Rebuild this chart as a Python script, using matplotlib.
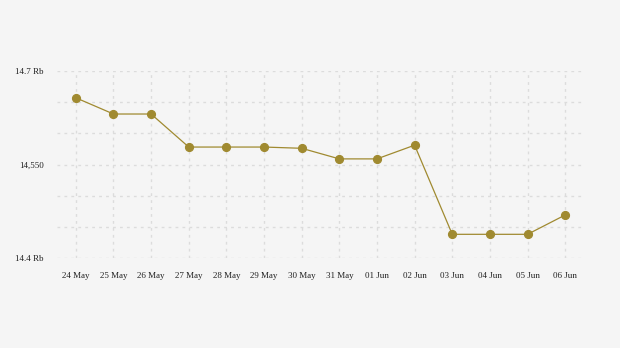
import numpy as np
import matplotlib.pyplot as plt

dates = ["24 May", "25 May", "26 May", "27 May", "28 May", "29 May", "30 May",
         "31 May", "01 Jun", "02 Jun", "03 Jun", "04 Jun", "05 Jun", "06 Jun"]
values = [14.657, 14.631, 14.631, 14.578, 14.578, 14.578, 14.576,
          14.559, 14.559, 14.581, 14.438, 14.438, 14.438, 14.469]
ytick_vals = [14.4, 14.55, 14.7]
ytick_labels = ["14.4 Rb", "14,550", "14.7 Rb"]

bg = "#f5f5f5"
col = "#a08a30"

fig = plt.figure(figsize=(6.2, 3.48), dpi=100, facecolor=bg)
ax = fig.add_axes([57/620, 1-258/348, (584-57)/620, (258-71)/348], facecolor=bg)

x = np.arange(len(dates))
ax.plot(x, values, color=col, lw=0.9, marker="o", ms=5.6, mfc=col, mec=col, zorder=3)

ax.set_xlim(-0.5, len(dates) - 0.5)
ax.set_ylim(14.4, 14.7)

# grid
for yy in np.arange(14.4, 14.7001, 0.05):
    ax.axhline(yy, color="#dcdcdc", lw=1, ls=(0, (2, 3)), zorder=1)
for xx in x:
    ax.axvline(xx, color="#dcdcdc", lw=1, ls=(0, (2, 3)), zorder=1)

ax.set_xticks(x)
ax.set_xticklabels(dates, fontsize=6.5, family="Liberation Serif", color="#222222")
ax.set_yticks(ytick_vals)
ax.set_yticklabels(ytick_labels, fontsize=6.5, family="Liberation Serif", color="#222222")
ax.tick_params(axis="x", length=0, pad=10)
ax.tick_params(axis="y", length=0, pad=9.5)
for s in ax.spines.values():
    s.set_visible(False)

fig.savefig("out.png", dpi=100, facecolor=bg)
